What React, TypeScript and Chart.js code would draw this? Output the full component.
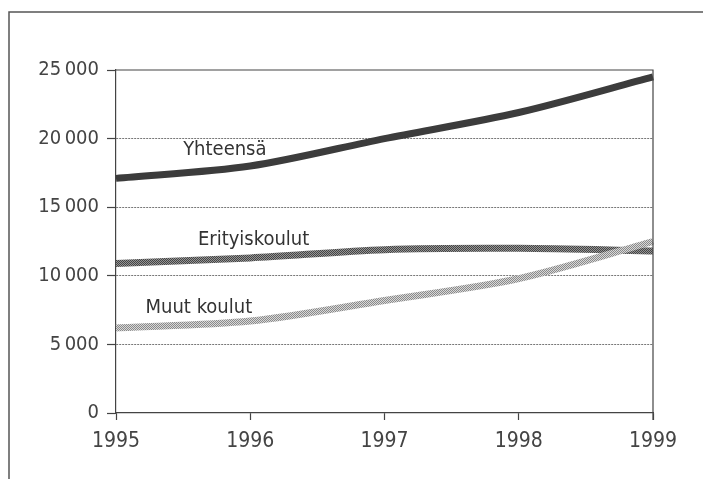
import React, { useEffect, useRef } from "react";
import { Chart, registerables } from "chart.js";

Chart.register(...registerables);

const years = ["1995", "1996", "1997", "1998", "1999"];
const yhteensa = [17100, 18000, 20000, 21900, 24500];
const erityiskoulut = [10900, 11300, 11900, 12000, 11800];
const muutKoulut = [6200, 6700, 8200, 9800, 12500];
const yTicks = [0, 5000, 10000, 15000, 20000, 25000];
const seriesNames = ["Yhteensä", "Erityiskoulut", "Muut koulut"];

const FONT = "'Liberation Sans Narrow', 'DejaVu Sans Condensed', 'Roboto Condensed', sans-serif";

function makePattern(dark: string, light: string): CanvasPattern | string {
  const c = document.createElement("canvas");
  c.width = 4;
  c.height = 4;
  const g = c.getContext("2d");
  if (!g) return dark;
  g.fillStyle = light;
  g.fillRect(0, 0, 4, 4);
  g.fillStyle = dark;
  for (let y = 0; y < 4; y++) {
    for (let x = 0; x < 4; x++) {
      if ((x + y) % 2 === 0) g.fillRect(x, y, 1, 1);
    }
  }
  const p = g.createPattern(c, "repeat");
  return p || dark;
}

function fmt(v: number): string {
  const s = String(Math.round(v));
  return s.length > 3 ? s.slice(0, s.length - 3) + "\u2009" + s.slice(s.length - 3) : s;
}

export default function App() {
  const ref = useRef<HTMLCanvasElement | null>(null);

  useEffect(() => {
    if (!ref.current) return;
    const eritPat = makePattern("#444444", "#959595");
    const muutPat = makePattern("#8a8a8a", "#d8d8d8");

    const framePlugin = {
      id: "framePlugin",
      afterDraw(chart: any) {
        const ctx = chart.ctx;
        const a = chart.chartArea;
        ctx.save();
        ctx.strokeStyle = "#555";
        ctx.lineWidth = 1.5;
        ctx.beginPath();
        ctx.moveTo(9, 479);
        ctx.lineTo(9, 12);
        ctx.lineTo(703, 12);
        ctx.stroke();
        ctx.strokeStyle = "#444";
        ctx.lineWidth = 1.2;
        ctx.beginPath();
        ctx.moveTo(a.left, a.top);
        ctx.lineTo(a.right, a.top);
        ctx.lineTo(a.right, a.bottom + 7);
        ctx.stroke();
        const ys = chart.scales.y;
        const w = a.right - a.left;
        ctx.fillStyle = "#333";
        ctx.font = `20px ${FONT}`;
        ctx.textBaseline = "middle";
        ctx.textAlign = "left";
        ctx.fillText(seriesNames[0], a.left + w * 0.5 / 4, ys.getPixelForValue(19200));
        ctx.fillText(seriesNames[1], a.left + w * 0.61 / 4, ys.getPixelForValue(12600));
        ctx.fillText(seriesNames[2], a.left + w * 0.22 / 4, ys.getPixelForValue(7700));
        ctx.restore();
      },
    };

    const chart = new Chart(ref.current, {
      type: "line",
      data: {
        labels: years,
        datasets: [
          {
            label: seriesNames[2],
            data: muutKoulut,
            borderColor: muutPat as any,
            borderWidth: 7,
            pointRadius: 0,
            tension: 0.3,
            fill: false,
          },
          {
            label: seriesNames[1],
            data: erityiskoulut,
            borderColor: eritPat as any,
            borderWidth: 7,
            pointRadius: 0,
            tension: 0.3,
            fill: false,
          },
          {
            label: seriesNames[0],
            data: yhteensa,
            borderColor: "#3c3c3c",
            borderWidth: 7,
            pointRadius: 0,
            tension: 0.3,
            fill: false,
          },
        ],
      },
      options: {
        responsive: false,
        animation: false,
        layout: { padding: { left: 0, right: 50, top: 70, bottom: 26 } },
        plugins: { legend: { display: false }, tooltip: { enabled: false } },
        scales: {
          x: {
            offset: false,
            grid: {
              drawOnChartArea: false,
              tickLength: 7,
              tickColor: "#444",
              tickWidth: 1.2,
            },
            border: { color: "#444", width: 1.2 },
            ticks: {
              color: "#444",
              font: { family: FONT, size: 21 },
              padding: 9,
              maxRotation: 0,
            },
            afterFit(scale: any) {
              scale.height = 40;
            },
          },
          y: {
            min: 0,
            max: 25000,
            afterBuildTicks(scale: any) {
              scale.ticks = yTicks.map((v) => ({ value: v }));
            },
            grid: {
              color: (ctx: any) =>
                ctx.tick && (ctx.tick.value === 0 || ctx.tick.value === 25000) ? "rgba(0,0,0,0)" : "#777",
              lineWidth: 1,
              tickLength: 9,
              tickColor: "#444",
              tickWidth: 1.2,
            },
            border: { color: "#444", width: 1.2, dash: [2, 1] },
            ticks: {
              color: "#444",
              font: { family: FONT, size: 20 },
              padding: 8,
              callback: (v: any) => fmt(Number(v)),
            },
            afterFit(scale: any) {
              scale.width = 116;
            },
          },
        },
      },
      plugins: [framePlugin],
    });
    return () => chart.destroy();
  }, []);

  return (
    <div style={{ position: "fixed", left: 0, top: 0, width: 703, height: 479, background: "#fff" }}>
      <canvas ref={ref} width={703} height={479} style={{ width: 703, height: 479, display: "block" }} />
    </div>
  );
}
